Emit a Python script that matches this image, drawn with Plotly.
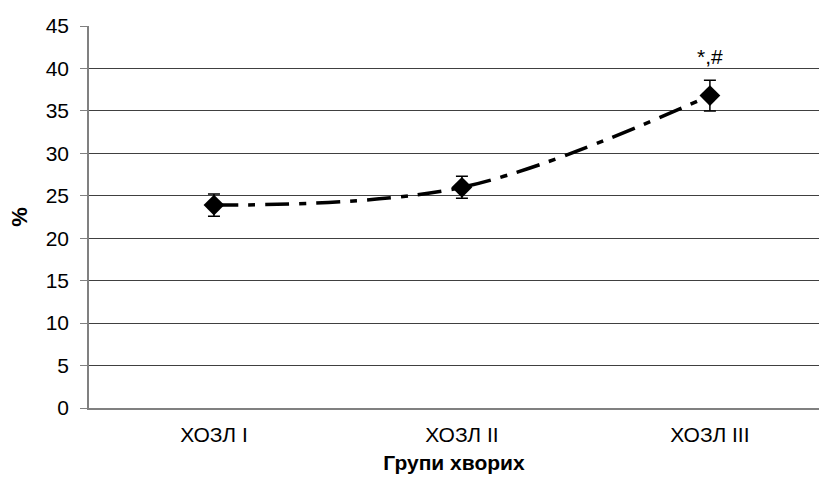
import plotly.graph_objects as go

# Patient groups and measured percentages
groups = ["ХОЗЛ I", "ХОЗЛ II", "ХОЗЛ III"]
values = [23.9, 26.0, 36.8]
errors = [1.3, 1.3, 1.8]
y_ticks = [0, 5, 10, 15, 20, 25, 30, 35, 40, 45]
significance = "*,#"

font_family = "Liberation Sans, Arial, sans-serif"

fig = go.Figure()
fig.add_trace(go.Scatter(
    x=groups,
    y=values,
    mode="lines+markers",
    line=dict(color="black", width=3.5, dash="24px,10px,7px,10px", shape="spline", smoothing=1.0),
    marker=dict(symbol="diamond", size=16, color="black"),
    error_y=dict(type="data", array=errors, visible=True, color="black", thickness=1.5, width=6),
    showlegend=False,
    hoverinfo="x+y",
))

fig.add_annotation(
    x=groups[2], y=values[2] + errors[2], yshift=24,
    text=significance, showarrow=False,
    font=dict(family=font_family, size=21, color="black"),
)

fig.update_layout(
    width=819, height=498,
    margin=dict(l=89, r=0, t=26, b=90),
    paper_bgcolor="white",
    plot_bgcolor="white",
    font=dict(family=font_family, size=21, color="black"),
    xaxis=dict(
        type="category",
        range=[-0.504, 2.44],
        showgrid=False,
        showline=True, linecolor="#808080", linewidth=1.5,
        ticks="",
        ticklabelstandoff=7,
        tickfont=dict(size=21, color="black"),
        title=dict(text="<b>Групи хворих</b>", font=dict(size=21, color="black"), standoff=10),
        fixedrange=True,
    ),
    yaxis=dict(
        range=[0, 45],
        tickvals=y_ticks,
        showgrid=True, gridcolor="#404040", gridwidth=1,
        showline=True, linecolor="#808080", linewidth=1.5,
        ticks="outside", ticklen=7, tickcolor="#808080",
        ticklabelstandoff=7,
        tickfont=dict(size=21, color="black"),
        zeroline=False,
        title=dict(text="<b>%</b>", font=dict(size=22, color="black"), standoff=12),
        fixedrange=True,
    ),
)

fig.write_html("out.html")
